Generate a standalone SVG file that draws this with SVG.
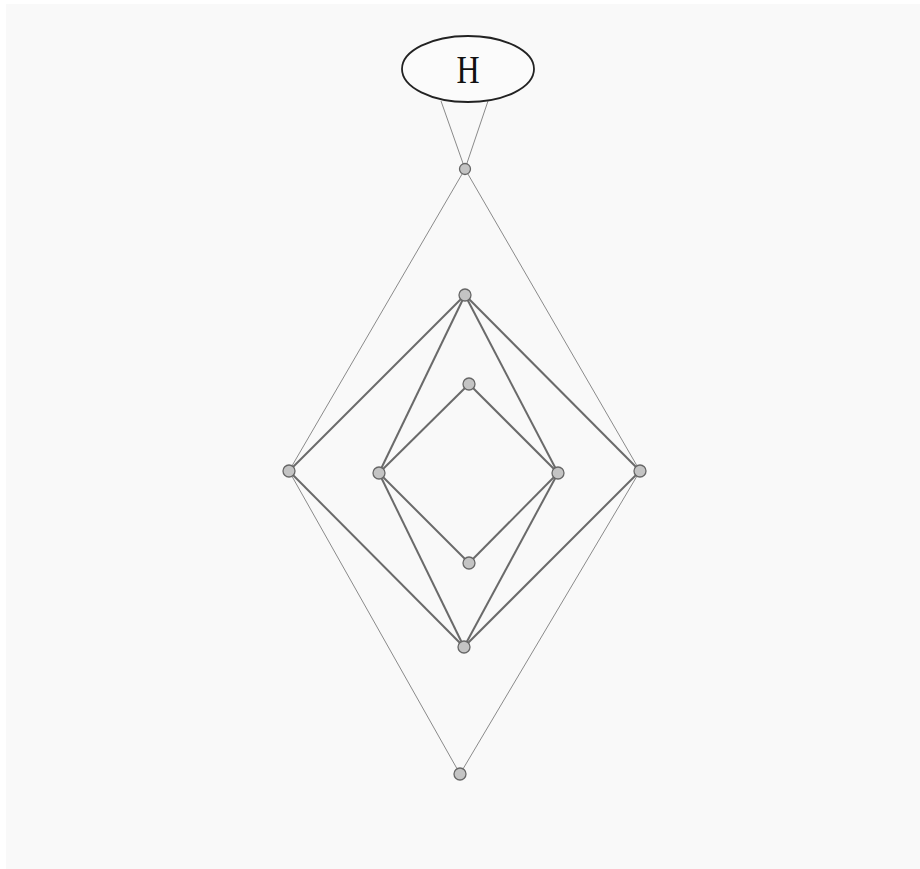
<svg xmlns="http://www.w3.org/2000/svg" width="920" height="869" viewBox="0 0 920 869">
<style>
.thin{stroke:#8a8a8a;stroke-width:1;fill:none}
.thick{stroke:#6a6a6a;stroke-width:2;fill:none}
.dot{fill:#c4c4c4;stroke:#666;stroke-width:1.3}
.lbl{font-family:"Liberation Serif",serif;font-size:40px;fill:#111;text-anchor:middle}
</style>
<rect x="0" y="0" width="920" height="869" fill="#ffffff"/>
<rect x="6" y="4" width="914" height="869" fill="#f9f9f9"/>
<g id="edges">
<line class="thin" x1="441" y1="101" x2="465" y2="169"/>
<line class="thin" x1="488" y1="101" x2="465" y2="169"/>
<line class="thin" x1="465" y1="169" x2="289" y2="471"/>
<line class="thin" x1="465" y1="169" x2="640" y2="471"/>
<line class="thin" x1="289" y1="471" x2="460" y2="774"/>
<line class="thin" x1="640" y1="471" x2="460" y2="774"/>
<line class="thick" x1="465" y1="295" x2="289" y2="471"/>
<line class="thick" x1="465" y1="295" x2="640" y2="471"/>
<line class="thick" x1="465" y1="295" x2="379" y2="473"/>
<line class="thick" x1="465" y1="295" x2="558" y2="473"/>
<line class="thick" x1="289" y1="471" x2="464" y2="647"/>
<line class="thick" x1="640" y1="471" x2="464" y2="647"/>
<line class="thick" x1="379" y1="473" x2="464" y2="647"/>
<line class="thick" x1="558" y1="473" x2="464" y2="647"/>
<line class="thick" x1="469" y1="384" x2="379" y2="473"/>
<line class="thick" x1="469" y1="384" x2="558" y2="473"/>
<line class="thick" x1="379" y1="473" x2="469" y2="563"/>
<line class="thick" x1="558" y1="473" x2="469" y2="563"/>
</g>
<g id="H">
<ellipse cx="468" cy="69" rx="66" ry="33" fill="#fbfbfb" stroke="#222" stroke-width="1.8"/>
<text class="lbl" transform="translate(468,83) scale(0.8,1)" x="0" y="0">H</text>
</g>
<g id="n_top"><circle class="dot" cx="465" cy="169" r="5.5"/></g>
<g id="n_a"><circle class="dot" cx="465" cy="295" r="6"/></g>
<g id="n_b"><circle class="dot" cx="469" cy="384" r="6"/></g>
<g id="n_left"><circle class="dot" cx="289" cy="471" r="6"/></g>
<g id="n_il"><circle class="dot" cx="379" cy="473" r="6"/></g>
<g id="n_ir"><circle class="dot" cx="558" cy="473" r="6"/></g>
<g id="n_right"><circle class="dot" cx="640" cy="471" r="6"/></g>
<g id="n_c"><circle class="dot" cx="469" cy="563" r="6"/></g>
<g id="n_d"><circle class="dot" cx="464" cy="647" r="6"/></g>
<g id="n_bottom"><circle class="dot" cx="460" cy="774" r="6"/></g>
</svg>
